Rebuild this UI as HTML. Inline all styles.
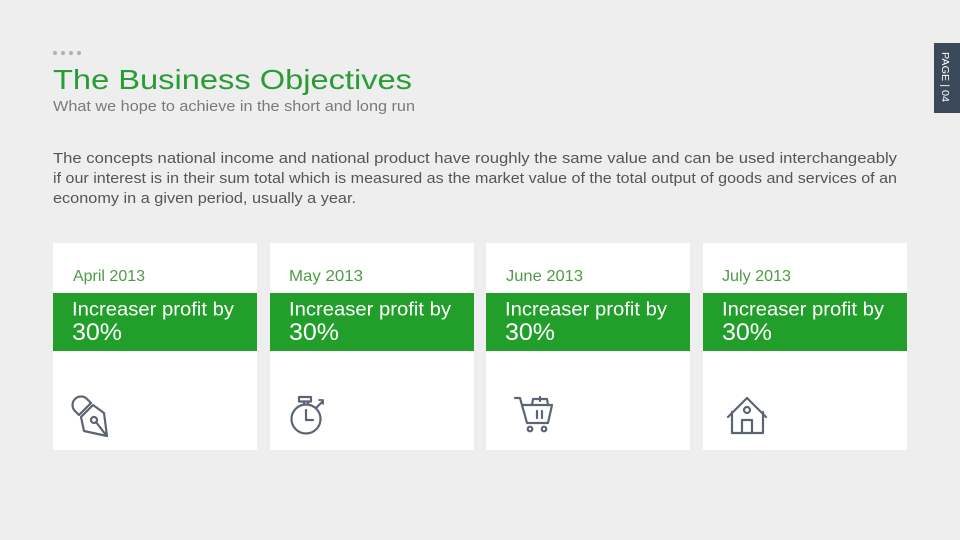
<!DOCTYPE html>
<html><head><meta charset="utf-8"><style>
html,body{margin:0;padding:0;background:#eeeeee;}
svg{display:block;}
text{font-family:"Liberation Sans",sans-serif;}
</style></head><body>
<svg width="960" height="540" viewBox="0 0 960 540" xmlns="http://www.w3.org/2000/svg">
<rect width="960" height="540" fill="#eeeeee"/>
<!-- dots -->
<g fill="#b0b0b0"><circle cx="55" cy="53" r="2"/><circle cx="63" cy="53" r="2"/><circle cx="71" cy="53" r="2"/><circle cx="79" cy="53" r="2"/></g>
<text x="53" y="89" font-size="28" fill="#2a9c35" textLength="359" lengthAdjust="spacingAndGlyphs">The Business Objectives</text>
<text x="53" y="111" font-size="14.5" fill="#7a7a7a" textLength="362" lengthAdjust="spacingAndGlyphs">What we hope to achieve in the short and long run</text>
<g font-size="14.5" fill="#555555">
<text x="53" y="163" textLength="844" lengthAdjust="spacingAndGlyphs">The concepts national income and national product have roughly the same value and can be used interchangeably</text>
<text x="53" y="183" textLength="844" lengthAdjust="spacingAndGlyphs">if our interest is in their sum total which is measured as the market value of the total output of goods and services of an</text>
<text x="53" y="203" textLength="303" lengthAdjust="spacingAndGlyphs">economy in a given period, usually a year.</text>
</g>
<!-- page tab -->
<rect x="934" y="43" width="26" height="70" fill="#3b4a5b"/>
<text transform="translate(942,52) rotate(90)" font-size="10" fill="#ffffff" textLength="50" lengthAdjust="spacingAndGlyphs">PAGE | 04</text>
<!-- cards -->
<g>
<rect x="53" y="243" width="204" height="207" fill="#ffffff"/>
<rect x="270" y="243" width="204" height="207" fill="#ffffff"/>
<rect x="486" y="243" width="204" height="207" fill="#ffffff"/>
<rect x="703" y="243" width="204" height="207" fill="#ffffff"/>
<g fill="#229e2b">
<rect x="53" y="293" width="204" height="58"/>
<rect x="270" y="293" width="204" height="58"/>
<rect x="486" y="293" width="204" height="58"/>
<rect x="703" y="293" width="204" height="58"/>
</g>
<g font-size="16" fill="#4f9a45">
<text x="73" y="281" textLength="72" lengthAdjust="spacingAndGlyphs">April 2013</text>
<text x="289" y="281" textLength="74" lengthAdjust="spacingAndGlyphs">May 2013</text>
<text x="506" y="281" textLength="77" lengthAdjust="spacingAndGlyphs">June 2013</text>
<text x="722" y="281" textLength="69" lengthAdjust="spacingAndGlyphs">July 2013</text>
</g>
<g fill="#ffffff">
<g font-size="19">
<text x="72" y="315.5" textLength="162" lengthAdjust="spacingAndGlyphs">Increaser profit by</text>
<text x="289" y="315.5" textLength="162" lengthAdjust="spacingAndGlyphs">Increaser profit by</text>
<text x="505" y="315.5" textLength="162" lengthAdjust="spacingAndGlyphs">Increaser profit by</text>
<text x="722" y="315.5" textLength="162" lengthAdjust="spacingAndGlyphs">Increaser profit by</text>
</g>
<g font-size="24.5">
<text x="72" y="340" textLength="50" lengthAdjust="spacingAndGlyphs">30%</text>
<text x="289" y="340" textLength="50" lengthAdjust="spacingAndGlyphs">30%</text>
<text x="505" y="340" textLength="50" lengthAdjust="spacingAndGlyphs">30%</text>
<text x="722" y="340" textLength="50" lengthAdjust="spacingAndGlyphs">30%</text>
</g>
</g>
</g>
<!-- icons -->
<g fill="none" stroke="#5b6475" stroke-width="2.2" stroke-linejoin="round" stroke-linecap="round">
<!-- pen nib -->
<path d="M75,411 A8,8 0 0 1 87,399 L91,403 L79,415 Z"/>
<path d="M81,417 L93,405 L104,413 L107,436 L84,431 Z"/>
<circle cx="94" cy="420" r="3"/>
<line x1="96" y1="422" x2="106" y2="435"/>
<!-- stopwatch -->
<circle cx="306" cy="419" r="14.5"/>
<rect x="299" y="397" width="12" height="4.5"/>
<line x1="304" y1="401.5" x2="304" y2="404.5"/>
<line x1="308" y1="401.5" x2="308" y2="404.5"/>
<polyline points="306,410 306,420 313,420"/>
<line x1="316" y1="408" x2="322" y2="402"/>
<path d="M319,400 L323,400 L323,404" stroke-width="1.8"/>
<!-- cart -->
<polyline points="515,398 520,398 527,423 548,423 552,405 522,405"/>
<path d="M532,405 L533,399 L547,399 L548,405"/>
<line x1="540" y1="397" x2="540" y2="401"/>
<line x1="537" y1="411" x2="537" y2="418"/>
<line x1="542" y1="411" x2="542" y2="418"/>
<circle cx="530" cy="429" r="2.3"/>
<circle cx="544" cy="429" r="2.3"/>
<!-- house -->
<polyline points="728,417 747,398 766,417"/>
<polyline points="732,412 732,433 763,433 763,412"/>
<polyline points="742,433 742,420 752,420 752,433"/>
<circle cx="747" cy="410" r="3"/>
</g>
</svg>
</body></html>
